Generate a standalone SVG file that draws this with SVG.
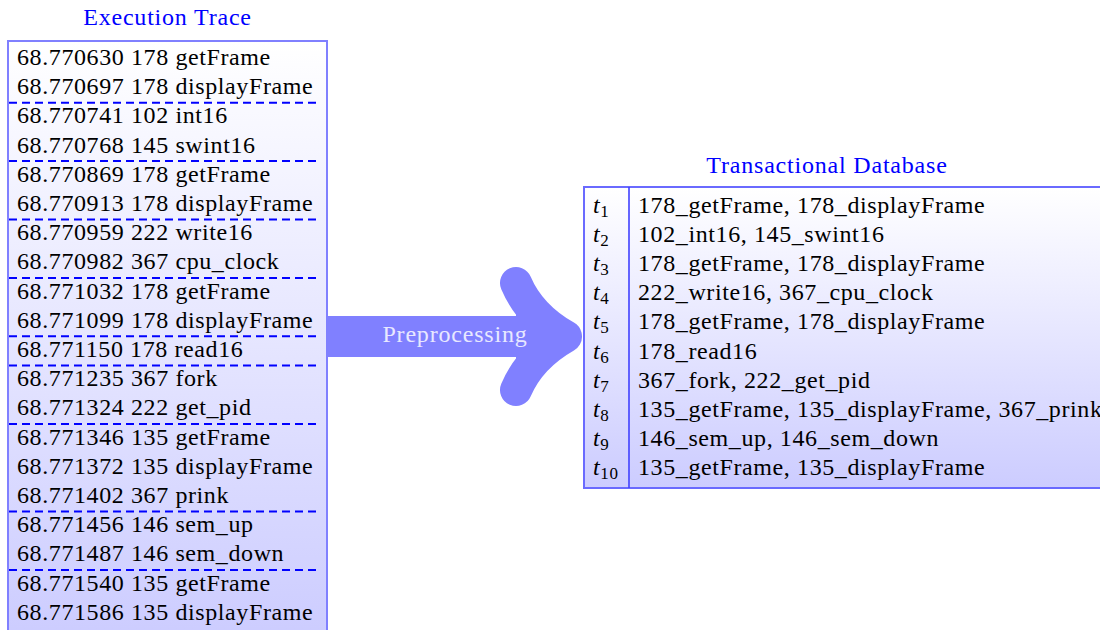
<svg xmlns="http://www.w3.org/2000/svg" width="1100" height="630" viewBox="0 0 1100 630" font-family="'Liberation Serif', serif">
<defs>
<linearGradient id="gLeft" x1="0" y1="41" x2="0" y2="640" gradientUnits="userSpaceOnUse"><stop offset="0" stop-color="#ffffff"/><stop offset="1" stop-color="#ccccff"/></linearGradient>
<linearGradient id="gRight" x1="0" y1="187" x2="0" y2="488" gradientUnits="userSpaceOnUse"><stop offset="0" stop-color="#ffffff"/><stop offset="1" stop-color="#ccccff"/></linearGradient>
<style>
.t{font-size:24px;fill:#000;letter-spacing:0.6px}
.title{font-size:24px;fill:#0000ff;text-anchor:middle;letter-spacing:0.8px}
.sep{stroke:#0000ff;stroke-width:2;stroke-dasharray:8,5;fill:none}
.box{stroke:#8080ff;stroke-width:2}
.it{font-style:italic}
.sub{font-size:17px}
</style>
</defs>
<rect width="1100" height="630" fill="#ffffff"/>

<g id="execution-trace" font-family="'Liberation Serif', serif">
<text class="title" x="167.5" y="25">Execution Trace</text>
<rect class="box" x="8" y="41" width="319" height="600" fill="url(#gLeft)"/>
<text class="t" x="17" y="65">68.770630 178 getFrame</text>
<text class="t" x="17" y="94.2">68.770697 178 displayFrame</text>
<text class="t" x="17" y="123.4">68.770741 102 int16</text>
<text class="t" x="17" y="152.6">68.770768 145 swint16</text>
<text class="t" x="17" y="181.8">68.770869 178 getFrame</text>
<text class="t" x="17" y="211">68.770913 178 displayFrame</text>
<text class="t" x="17" y="240.2">68.770959 222 write16</text>
<text class="t" x="17" y="269.4">68.770982 367 cpu_clock</text>
<text class="t" x="17" y="298.6">68.771032 178 getFrame</text>
<text class="t" x="17" y="327.8">68.771099 178 displayFrame</text>
<text class="t" x="17" y="357">68.771150 178 read16</text>
<text class="t" x="17" y="386.2">68.771235 367 fork</text>
<text class="t" x="17" y="415.4">68.771324 222 get_pid</text>
<text class="t" x="17" y="444.6">68.771346 135 getFrame</text>
<text class="t" x="17" y="473.8">68.771372 135 displayFrame</text>
<text class="t" x="17" y="503">68.771402 367 prink</text>
<text class="t" x="17" y="532.2">68.771456 146 sem_up</text>
<text class="t" x="17" y="561.4">68.771487 146 sem_down</text>
<text class="t" x="17" y="590.6">68.771540 135 getFrame</text>
<text class="t" x="17" y="619.8">68.771586 135 displayFrame</text>
<g id="separators">
<line class="sep" x1="9" y1="102.7" x2="321" y2="102.7"/>
<line class="sep" x1="9" y1="161.1" x2="321" y2="161.1"/>
<line class="sep" x1="9" y1="219.5" x2="321" y2="219.5"/>
<line class="sep" x1="9" y1="277.9" x2="321" y2="277.9"/>
<line class="sep" x1="9" y1="336.3" x2="321" y2="336.3"/>
<line class="sep" x1="9" y1="365.5" x2="321" y2="365.5"/>
<line class="sep" x1="9" y1="423.9" x2="321" y2="423.9"/>
<line class="sep" x1="9" y1="511.5" x2="321" y2="511.5"/>
<line class="sep" x1="9" y1="569.9" x2="321" y2="569.9"/>
</g>
</g>

<g id="connectors">
<rect x="328" y="316" width="215" height="41" fill="#8080ff"/>
<path d="M516,283 Q530,316 566,336.5 Q530,357 516,390" fill="#8080ff" stroke="#8080ff" stroke-width="32" stroke-linecap="round" stroke-linejoin="round"/>
<text x="455" y="342" text-anchor="middle" font-family="'Liberation Serif', serif" font-size="24" fill="#e8e8ff" letter-spacing="0.8">Preprocessing</text>
</g>

<g id="transactional-database" font-family="'Liberation Serif', serif">
<text class="title" x="827" y="172.5">Transactional Database</text>
<rect x="584" y="187" width="530" height="301" fill="url(#gRight)" stroke="#6a6aff" stroke-width="2"/>
<line x1="629" y1="187" x2="629" y2="488" stroke="#4040ff" stroke-width="1.6"/>
<text class="t" x="593" y="213"><tspan class="it">t</tspan><tspan class="sub" dy="4">1</tspan></text>
<text class="t" x="593" y="242.1"><tspan class="it">t</tspan><tspan class="sub" dy="4">2</tspan></text>
<text class="t" x="593" y="271.2"><tspan class="it">t</tspan><tspan class="sub" dy="4">3</tspan></text>
<text class="t" x="593" y="300.3"><tspan class="it">t</tspan><tspan class="sub" dy="4">4</tspan></text>
<text class="t" x="593" y="329.4"><tspan class="it">t</tspan><tspan class="sub" dy="4">5</tspan></text>
<text class="t" x="593" y="358.5"><tspan class="it">t</tspan><tspan class="sub" dy="4">6</tspan></text>
<text class="t" x="593" y="387.6"><tspan class="it">t</tspan><tspan class="sub" dy="4">7</tspan></text>
<text class="t" x="593" y="416.7"><tspan class="it">t</tspan><tspan class="sub" dy="4">8</tspan></text>
<text class="t" x="593" y="445.8"><tspan class="it">t</tspan><tspan class="sub" dy="4">9</tspan></text>
<text class="t" x="593" y="474.9"><tspan class="it">t</tspan><tspan class="sub" dy="4">10</tspan></text>
<text class="t" x="638" y="213">178_getFrame, 178_displayFrame</text>
<text class="t" x="638" y="242.1">102_int16, 145_swint16</text>
<text class="t" x="638" y="271.2">178_getFrame, 178_displayFrame</text>
<text class="t" x="638" y="300.3">222_write16, 367_cpu_clock</text>
<text class="t" x="638" y="329.4">178_getFrame, 178_displayFrame</text>
<text class="t" x="638" y="358.5">178_read16</text>
<text class="t" x="638" y="387.6">367_fork, 222_get_pid</text>
<text class="t" x="638" y="416.7">135_getFrame, 135_displayFrame, 367_prink</text>
<text class="t" x="638" y="445.8">146_sem_up, 146_sem_down</text>
<text class="t" x="638" y="474.9">135_getFrame, 135_displayFrame</text>
</g>
</svg>
